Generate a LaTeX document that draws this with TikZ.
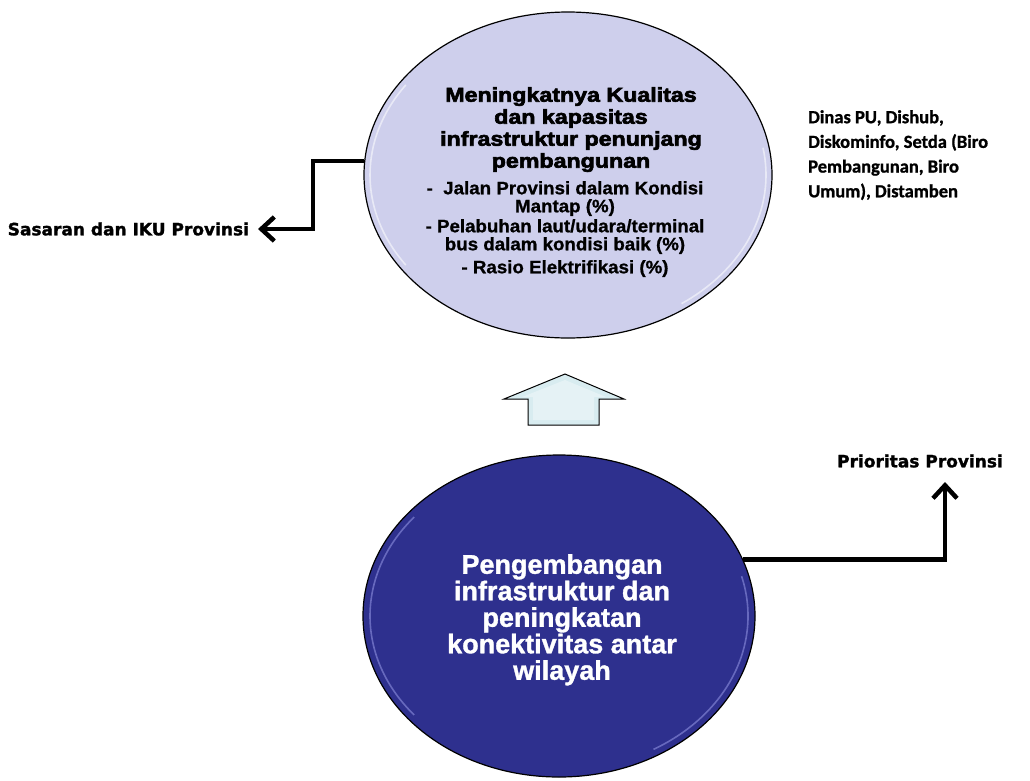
\documentclass[tikz,border=0pt]{standalone}
\usepackage{fontspec}
\setmainfont{Liberation Sans}[BoldFeatures={FakeBold=1.2}]
\newfontfamily\goalfont{Liberation Sans}[FakeStretch=1.16, BoldFeatures={FakeBold=3.2}]
\newfontfamily\itemfont{Liberation Sans}[FakeStretch=1.04, BoldFeatures={FakeBold=1}]
\newfontfamily\labelfont{DejaVu Sans}[BoldFeatures={FakeBold=1.5}]
\newfontfamily\calfont{Carlito}[BoldFeatures={FakeBold=1}]
\usetikzlibrary{arrows.meta,shapes.geometric}

\definecolor{goalfill}{RGB}{206,207,236}
\definecolor{basefill}{RGB}{46,48,142}
\definecolor{basefillrim}{RGB}{150,152,230}
\definecolor{arrowfill}{RGB}{216,236,240}

\tikzset{
  bubble/.style={ellipse, draw=black, line width=1.2pt, inner sep=0pt},
  rim/.style={line width=1.6pt, opacity=0.55},
  link/.style={line width=4.5pt, -{Straight Barb[length=13pt,width=24pt]}},
  lbl/.style={font=\labelfont\bfseries\fontsize{17}{20}\selectfont, inner sep=0pt},
  blocktext/.style={anchor=north, align=center, inner sep=0pt},
}

\begin{document}
\begin{tikzpicture}[x=1pt,y=1pt]
\useasboundingbox[fill=white] (0,0) rectangle (1030,-780);

% the two ellipses
\node[bubble, fill=goalfill, minimum width=408pt, minimum height=326pt] (goal) at (568,-175) {};
\node[bubble, fill=basefill, minimum width=392pt, minimum height=322pt] (base) at (559,-616) {};

% soft rim highlights
\draw[rim, white] (goal.center) ++(145:198 and 157) arc[start angle=145, end angle=215, x radius=198, y radius=157];
\draw[rim, white] (goal.center) ++(-55:198 and 157) arc[start angle=-55, end angle=10, x radius=198, y radius=157];
\draw[rim, basefillrim] (base.center) ++(140:189 and 154) arc[start angle=140, end angle=220, x radius=189, y radius=154];
\draw[rim, basefillrim] (base.center) ++(-60:189 and 154) arc[start angle=-60, end angle=15, x radius=189, y radius=154];

% upward block arrow between the ellipses
\filldraw[fill=arrowfill, draw=black, line width=1pt]
  (565,-374) -- (624,-399) -- (599,-399) -- (599,-425) -- (528,-425) -- (528,-399) -- (504,-399) -- cycle;
\fill[white, opacity=0.35]
  (565,-380) -- (606,-397) -- (594,-397) -- (594,-420) -- (533,-420) -- (533,-397) -- (522,-397) -- cycle;

% texts inside the ellipses
\node[blocktext, font=\goalfont\bfseries\fontsize{20}{22}\selectfont] (goaltitle) at (571,-87)
  {Meningkatnya Kualitas\\dan kapasitas\\infrastruktur penunjang\\pembangunan};
\node[blocktext, font=\itemfont\bfseries\fontsize{18}{18}\selectfont] (goalitems) at (565,-181)
  {-\ \ Jalan Provinsi dalam Kondisi\\Mantap (\%)\\[2pt]- Pelabuhan laut/udara/terminal\\bus dalam kondisi baik (\%)\\[5pt]- Rasio Elektrifikasi (\%)};
\node[blocktext, text=white, font=\bfseries\fontsize{27}{26.5}\selectfont] (basetext) at (562,-554)
  {Pengembangan\\infrastruktur dan\\peningkatan\\konektivitas antar\\wilayah};

% responsible agencies
\node[anchor=north west, align=left, inner sep=0pt, font=\calfont\bfseries\fontsize{18.5}{24.7}\selectfont] (agencies) at (808,-110)
  {Dinas PU, Dishub,\\Diskominfo, Setda (Biro\\Pembangunan, Biro\\Umum), Distamben};

% side labels and their connectors
\node[lbl, anchor=east, outer xsep=9pt] (sasaran) at (258,-229) {Sasaran dan IKU Provinsi};
\node[lbl] (prio) at (920,-461) {Prioritas Provinsi};
\coordinate (lbend) at (313,-229);
\coordinate (ptip) at (945,-482);
\draw[link] (goal.176) -| (lbend) -- (sasaran.east);
\draw[link] (base.17.6) -| (ptip);
\end{tikzpicture}
\end{document}
